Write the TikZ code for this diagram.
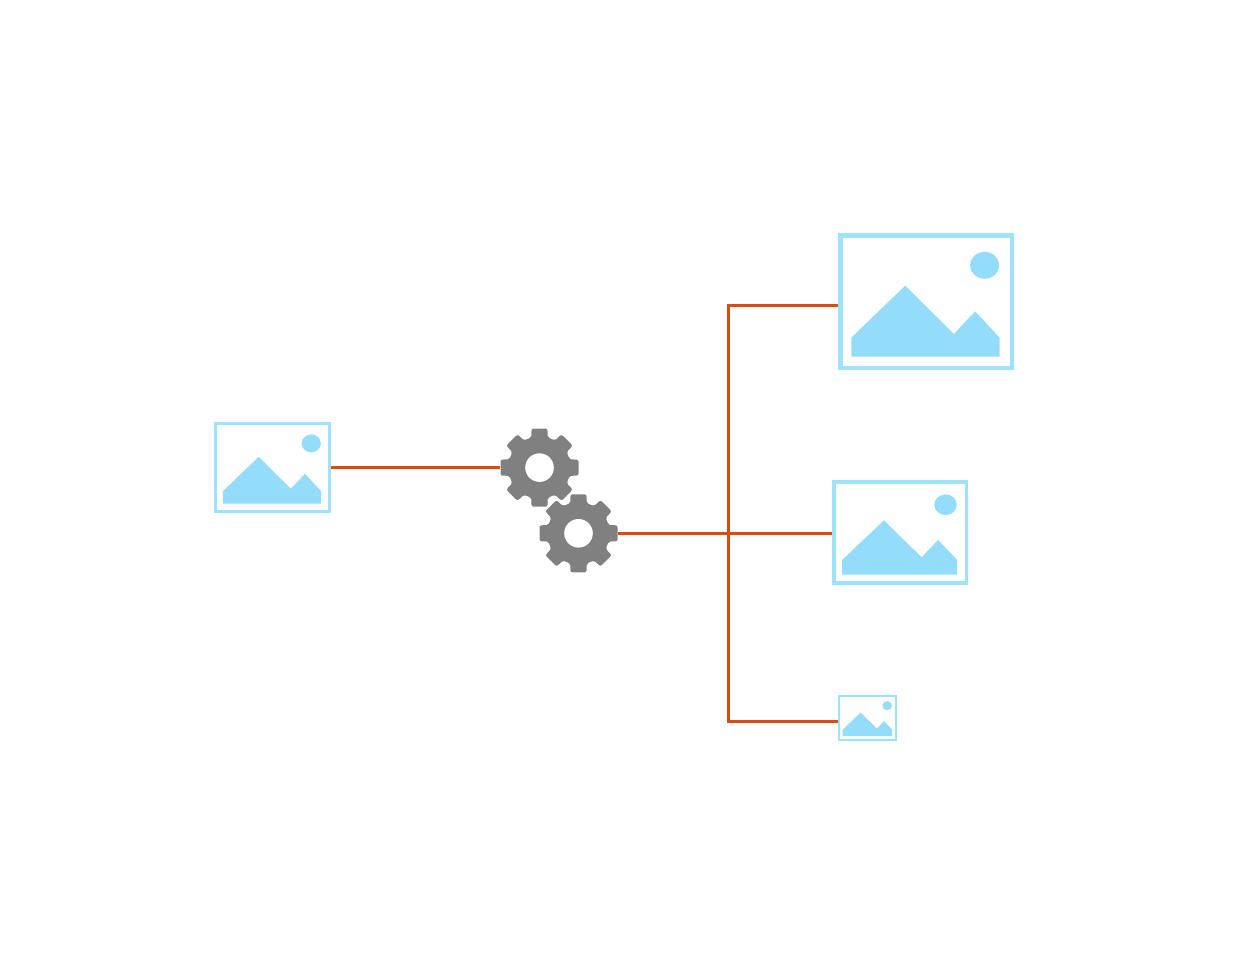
\documentclass[tikz,border=0pt]{standalone}
\definecolor{skyfill}{HTML}{94DDFA}
\definecolor{skyframe}{HTML}{9FE2FD}
\definecolor{geargray}{HTML}{808080}
\definecolor{linkred}{HTML}{DB4A0E}
\tikzset{
  link/.style={draw=linkred,line width=2.5pt},
  frame/.style={draw=skyframe,fill=white,rectangle,inner sep=0pt},
  gearspot/.style={circle,inner sep=0pt,minimum size=79pt,outer sep=0pt},
}
% name, x0, y0, x1, y1 (outer edges), line width
\newcommand{\imgicon}[6]{%
  \pgfmathsetmacro{\imgW}{#4-#2}%
  \pgfmathsetmacro{\imgH}{#5-#3}%
  \pgfmathsetmacro{\imgCx}{(#2+#4)/2}%
  \pgfmathsetmacro{\imgCy}{(#3+#5)/2}%
  \pgfmathsetmacro{\imgMw}{\imgW-#6}%
  \pgfmathsetmacro{\imgMh}{\imgH-#6}%
  \node[frame,line width=#6pt,minimum width=\imgMw pt,minimum height=\imgMh pt] (#1) at (\imgCx,\imgCy) {};
  \begin{scope}[shift={(#2,#3)},x=\imgW pt,y=-\imgH pt]
    \fill[skyfill] (.074,.90) -- (.074,.7613) -- (.3808,.3825) -- (.6576,.7348)
      -- (.7786,.5693) -- (.9175,.7613) -- (.9175,.90) -- cycle;
    \fill[skyfill] (.8329,.2335) ellipse [x radius=.0825,y radius=.0985];
  \end{scope}
}
% name, cx, cy
\newcommand{\gearicon}[3]{%
  \node[gearspot] (#1) at (#2,#3) {};
  \begin{scope}[shift={(#2,#3)}]
    \fill[geargray,rounded corners=2pt] (-15.5:31)
      \foreach \a in {0,45,...,315} {
        -- ({\a-15.5}:31) -- ({\a-11.5}:39.8) -- ({\a+11.5}:39.8) -- ({\a+15.5}:31)
      } -- cycle;
    \fill[geargray] (0,0) circle [radius=31];
    \fill[white] (0,0) circle [radius=14.3];
  \end{scope}
}
\begin{document}
\begin{tikzpicture}[x=1pt,y=-1pt]
  \path[use as bounding box,fill=white] (0,0) rectangle (1244,979);

  \imgicon{source}{214.3}{422.3}{330.7}{512.7}{3}
  \imgicon{large}{838.3}{233.3}{1014}{370.3}{4.5}
  \imgicon{medium}{832}{480.3}{968.3}{585}{3.6}
  \imgicon{small}{838.3}{695}{897}{740.7}{1.7}
  \gearicon{gearA}{539.5}{467.6}
  \gearicon{gearB}{578.5}{533.3}

  \coordinate (hub) at (728.3,533.3);
  \coordinate (lv) at (0,305.3);
  \coordinate (sv) at (0,721.4);
  \coordinate (lend) at (large.west |- lv);
  \coordinate (send) at (small.west |- sv);

  \draw[link] (source.east |- gearA.west) -- (gearA.west);
  \draw[link] (gearB.east) -- (medium.west |- gearB.east);
  \draw[link,line join=miter] (lend) -| (hub |- send) -- (send);
\end{tikzpicture}
\end{document}
